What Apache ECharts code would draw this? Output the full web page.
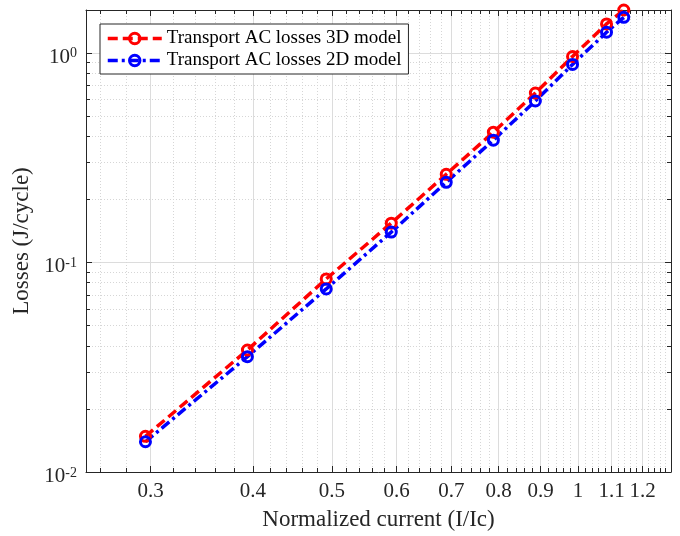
<!DOCTYPE html>
<html>
<head>
<meta charset="utf-8">
<script src="https://cdn.jsdelivr.net/npm/echarts@6/dist/echarts.min.js"></script>
<style>
  html, body { margin: 0; padding: 0; background: #ffffff; }
  #chart { width: 680px; height: 536px; }
</style>
</head>
<body>
<div id="chart"></div>
<script>
// Normalized transport current I/Ic
const current = [0.2956, 0.394, 0.492, 0.591, 0.690, 0.788, 0.887, 0.985, 1.084, 1.138];
// Transport AC losses per cycle (J/cycle)
const losses3D = [0.01479, 0.0382, 0.0834, 0.1539, 0.2632, 0.4180, 0.6427, 0.960, 1.373, 1.60];
const losses2D = [0.01394, 0.0355, 0.0747, 0.1395, 0.2411, 0.3831, 0.5888, 0.880, 1.253, 1.476];

const seriesNames = ['Transport AC losses 3D model', 'Transport AC losses 2D model'];

// Tick positions
const xMajorTicks = [0.3, 0.4, 0.5, 0.6, 0.7, 0.8, 0.9, 1, 1.1, 1.2];
const yMajorTicks = [0.01, 0.1, 1];

const xRange = [0.25, 1.3];
const yRange = [0.01, 1.6];

// minor ticks: every 0.02 on x, 2..9 of each decade on y
const xMinorTicks = [];
for (let k = 26; k <= 128; k += 2) {
  if (k % 10 !== 0) xMinorTicks.push(k / 100);
}
const yMinorTicks = [];
[0.01, 0.1].forEach(function (d) {
  for (let m = 2; m <= 9; m++) yMinorTicks.push(+(m * d).toFixed(4));
});

const FONT = 'Liberation Serif';
const AXIS_COLOR = '#262626';
const MAJOR_GRID = '#dcdcdc';
const MINOR_GRID = '#d6d6d6';

function makeAxis(position, ticks, isMajor, withGrid, range) {
  return {
    type: 'log',
    logBase: 10,
    min: range[0],
    max: range[1],
    position: position,
    axisLine: { show: isMajor, onZero: false, lineStyle: { color: AXIS_COLOR, width: 1 } },
    axisTick: {
      show: true,
      inside: true,
      length: isMajor ? 6 : 4,
      customValues: ticks,
      lineStyle: { color: AXIS_COLOR, width: 1 }
    },
    axisLabel: { show: false },
    splitLine: {
      show: withGrid,
      lineStyle: isMajor
        ? { color: MAJOR_GRID, width: 1, type: 'solid' }
        : { color: MINOR_GRID, width: 1, type: [1, 2] }
    },
    minorTick: { show: false },
    minorSplitLine: { show: false }
  };
}

const xMain = makeAxis('bottom', xMajorTicks, true, true, xRange);
xMain.name = 'Normalized current (I/Ic)';
xMain.nameLocation = 'middle';
xMain.nameGap = 36;
xMain.nameTextStyle = { fontFamily: FONT, fontSize: 23, color: AXIS_COLOR };
xMain.axisLabel = {
  show: true,
  customValues: xMajorTicks,
  formatter: function (v) { return String(+(+v).toFixed(2)); },
  margin: 9,
  fontFamily: FONT,
  fontSize: 21,
  color: AXIS_COLOR,
  hideOverlap: false
};

const yMain = makeAxis('left', yMajorTicks, true, true, yRange);
yMain.name = 'Losses (J/cycle)';
yMain.nameLocation = 'middle';
yMain.nameGap = 48;
yMain.nameTextStyle = { fontFamily: FONT, fontSize: 23, color: AXIS_COLOR };
yMain.axisLabel = {
  show: true,
  customValues: yMajorTicks,
  formatter: function (v) {
    return '{b|10}{s|' + Math.round(Math.log10(v)) + '}';
  },
  margin: 9,
  padding: [9, 0, 0, 0],
  hideOverlap: false,
  rich: {
    b: { fontFamily: FONT, fontSize: 21, color: AXIS_COLOR },
    s: { fontFamily: FONT, fontSize: 14, color: AXIS_COLOR, verticalAlign: 'top' }
  }
};

const xAxes = [
  xMain,
  makeAxis('bottom', xMinorTicks, false, true, xRange),
  makeAxis('top', xMajorTicks, true, false, xRange),
  makeAxis('top', xMinorTicks, false, false, xRange)
];
const yAxes = [
  yMain,
  makeAxis('left', yMinorTicks, false, true, yRange),
  makeAxis('right', yMajorTicks, true, false, yRange),
  makeAxis('right', yMinorTicks, false, false, yRange)
];

function lineSeries(name, values, color, dash) {
  return {
    name: name,
    type: 'line',
    xAxisIndex: 0,
    yAxisIndex: 0,
    data: current.map(function (x, i) { return [x, values[i]]; }),
    symbol: 'circle',
    symbolSize: 10,
    showSymbol: true,
    clip: false,
    lineStyle: { color: color, width: 3.5, type: dash },
    itemStyle: { color: 'rgba(255,255,255,0)', borderColor: color, borderWidth: 3 },
    emphasis: { disabled: true },
    z: 3
  };
}

const chart = echarts.init(document.getElementById('chart'), null, { renderer: 'canvas' });
chart.setOption({
  animation: false,
  backgroundColor: '#ffffff',
  grid: { left: 86, right: 9, top: 10, bottom: 64, containLabel: false },
  xAxis: xAxes,
  yAxis: yAxes,
  legend: {
    data: seriesNames,
    orient: 'vertical',
    left: 100,
    top: 24,
    itemWidth: 54,
    itemHeight: 13,
    itemGap: 3,
    padding: [5, 7, 4, 6],
    borderColor: AXIS_COLOR,
    borderWidth: 1,
    borderRadius: 0,
    backgroundColor: '#ffffff',
    selectedMode: false,
    lineStyle: { width: 3.5 },
    itemStyle: { borderWidth: 3 },
    textStyle: { fontFamily: FONT, fontSize: 19, color: '#000000' }
  },
  series: [
    lineSeries(seriesNames[0], losses3D, '#ff0000', [10, 5]),
    lineSeries(seriesNames[1], losses2D, '#0000ff', [10, 4, 3, 4])
  ]
});
</script>
</body>
</html>
